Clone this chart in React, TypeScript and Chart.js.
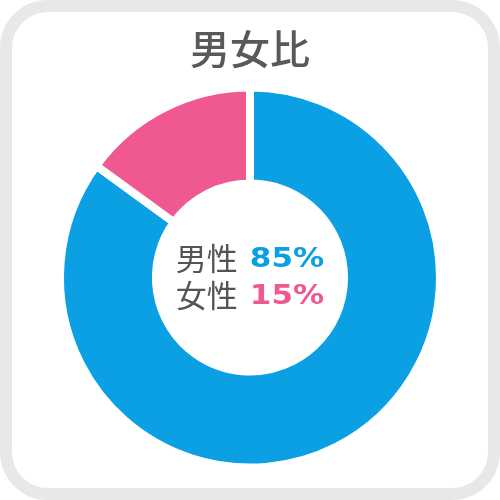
import React, { useEffect, useRef } from "react";
import { Chart, registerables } from "chart.js";

Chart.register(...registerables);

const title = "男女比";
const categories = ["男性", "女性"];
const values = [85, 15];
const colors = ["#0ba0e3", "#ef5890"];
const valueLabels = ["85%", "15%"];

const centerText = {
  id: "centerText",
  afterDatasetsDraw(chart: any) {
    const { ctx, chartArea } = chart;
    const cx = (chartArea.left + chartArea.right) / 2;
    const cy = (chartArea.top + chartArea.bottom) / 2;
    const offsets = [-19, 18];
    const sx = 1.15;
    ctx.save();
    ctx.textBaseline = "middle";
    categories.forEach((cat, i) => {
      const labelFont = "400 31px 'Noto Sans CJK JP'";
      const valueFont = "bold 27px 'DejaVu Sans'";
      ctx.font = labelFont;
      const lw = ctx.measureText(cat).width;
      const gap = 12;
      ctx.font = valueFont;
      const vw = ctx.measureText(valueLabels[i]).width * sx;
      const total = lw + gap + vw;
      const x0 = cx - total / 2;
      const y = cy + offsets[i];
      ctx.textAlign = "left";
      ctx.font = labelFont;
      ctx.fillStyle = "#555555";
      ctx.fillText(cat, x0, y);
      ctx.save();
      ctx.translate(x0 + lw + gap, y + 1);
      ctx.scale(sx, 1);
      ctx.font = valueFont;
      ctx.fillStyle = colors[i];
      ctx.fillText(valueLabels[i], 0, 0);
      ctx.restore();
    });
    ctx.restore();
  },
};

export default function App() {
  const ref = useRef<HTMLCanvasElement>(null);
  useEffect(() => {
    if (!ref.current) return;
    const chart = new Chart(ref.current, {
      type: "doughnut",
      data: {
        labels: categories,
        datasets: [
          {
            data: values,
            backgroundColor: colors,
            borderColor: "#ffffff",
            borderWidth: 8,
            hoverOffset: 0,
          },
        ],
      },
      options: {
        animation: false,
        responsive: true,
        maintainAspectRatio: false,
        radius: 190,
        cutout: "49.5%",
        events: [],
        layout: { padding: { top: 0, bottom: 34, left: 50, right: 50 } },
        plugins: {
          legend: { display: false },
          tooltip: { enabled: false },
          title: {
            display: true,
            text: title,
            color: "#595959",
            font: { family: "'Noto Sans CJK JP'", size: 40, weight: "500", lineHeight: 1.2 },
            padding: { top: 25, bottom: 16 },
          },
        },
      } as any,
      plugins: [centerText],
    });
    return () => chart.destroy();
  }, []);
  return (
    <div style={{ position: "fixed", left: 0, top: 0, width: 500, height: 500, background: "#fff" }}>
      <div
        style={{
          position: "absolute",
          left: 0,
          top: 0,
          width: 500,
          height: 500,
          boxSizing: "border-box",
          border: "12px solid #e8e8e8",
          borderRadius: 48,
        }}
      />
      <div style={{ position: "absolute", left: 0, top: 0, width: 500, height: 500 }}>
        <canvas ref={ref} />
      </div>
    </div>
  );
}
